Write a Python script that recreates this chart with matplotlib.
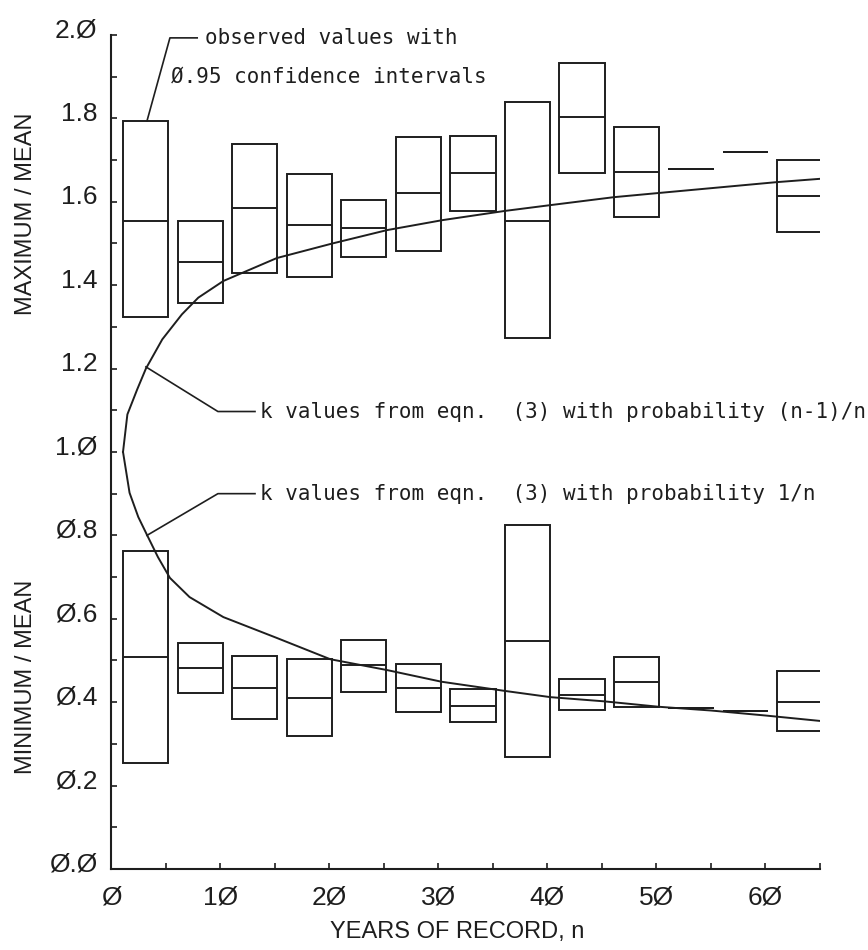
import numpy as np
import matplotlib
matplotlib.use("Agg")
from matplotlib import pyplot as plt
from matplotlib.patches import Rectangle
from matplotlib.transforms import ScaledTranslation

#################################################################################################################################

# Data

# first year of each group of record lengths
bin_start = [1, 6, 11, 16, 21, 26, 31, 36, 41, 46, 51, 56, 61]

# maximum / mean : upper limit, observed, lower limit
max_hi = [1.794, 1.554, 1.739, 1.667, 1.604, 1.756, 1.758, 1.839, 1.933, 1.780, 1.679, 1.719, 1.700]
max_obs = [1.554, 1.456, 1.585, 1.544, 1.537, 1.621, 1.669, 1.554, 1.803, 1.672, 1.679, 1.719, 1.614]
max_lo = [1.324, 1.357, 1.429, 1.420, 1.468, 1.482, 1.578, 1.273, 1.669, 1.564, 1.679, 1.719, 1.528]

# minimum / mean : upper limit, observed, lower limit
min_hi = [0.763, 0.542, 0.511, 0.504, 0.549, 0.492, 0.432, 0.825, 0.455, 0.508, 0.386, 0.380, 0.475]
min_obs = [0.509, 0.482, 0.434, 0.410, 0.489, 0.434, 0.391, 0.547, 0.418, 0.449, 0.386, 0.380, 0.400]
min_lo = [0.254, 0.422, 0.360, 0.319, 0.425, 0.377, 0.352, 0.268, 0.381, 0.389, 0.386, 0.380, 0.330]

# k values, eqn. (3)
n_upper = [1.1, 1.5, 2.4, 3.2, 4.7, 6.5, 8.0, 10.3, 15.2, 20.3, 25.3, 30.4, 36.1, 40.3, 46.1, 50.2, 61.0, 65.0]
k_upper = [1.0, 1.09, 1.15, 1.20, 1.27, 1.33, 1.37, 1.41, 1.465, 1.50, 1.532, 1.556, 1.578, 1.592, 1.611, 1.621, 1.647, 1.655]

n_lower = [1.1, 1.7, 2.5, 3.3, 4.3, 5.4, 7.2, 10.3, 15.2, 20.1, 25.3, 30.3, 36.1, 40.3, 45.2, 50.2, 55.0, 60.0, 65.0]
k_lower = [1.0, 0.902, 0.844, 0.801, 0.748, 0.698, 0.652, 0.604, 0.554, 0.503, 0.477, 0.449, 0.427, 0.412, 0.402, 0.389, 0.380, 0.368, 0.355]

x_ticks = [0, 10, 20, 30, 40, 50, 60]
x_labels = ['Ø', '1Ø', '2Ø', '3Ø', '4Ø', '5Ø', '6Ø']
y_ticks = [0.0, 0.2, 0.4, 0.6, 0.8, 1.0, 1.2, 1.4, 1.6, 1.8, 2.0]
y_labels = ['Ø.Ø', 'Ø.2', 'Ø.4', 'Ø.6', 'Ø.8', '1.Ø', '1.2', '1.4', '1.6', '1.8', '2.Ø']

#################################################################################################################################

# Styles

ink = '#1e1e1e'
lw = 1.4
plot_font = ['Liberation Sans', 'DejaVu Sans']
note_font = ['DejaVu Sans Mono']

fig = plt.figure(figsize=(8.68, 9.5), dpi=100)
ax = fig.add_axes([0.1279, 0.0853, 0.8168, 0.8779])

# Boxes: 0.95 confidence intervals with observed value
def draw_boxes(hi, obs, lo):
    for s, h, m, l in zip(bin_start, hi, obs, lo):
        x0 = s + 0.1
        x1 = s + 4.25
        ax.add_patch(Rectangle((x0, l), x1 - x0, h - l, fill=False, edgecolor=ink, lw=lw))
        ax.hlines(m, x0, x1, colors=ink, lw=lw)

draw_boxes(max_hi, max_obs, max_lo)
draw_boxes(min_hi, min_obs, min_lo)

# k curves
ax.plot(n_upper, k_upper, color=ink, lw=lw)
ax.plot(n_lower, k_lower, color=ink, lw=lw)

#################################################################################################################################

# Notes with leader lines

ax.plot([3.3, 5.4, 7.9], [1.794, 1.993, 1.993], color=ink, lw=1.2, clip_on=False)
ax.text(8.6, 1.993, 'observed values with', fontsize=15, family=note_font, color=ink, va='center', ha='left')
ax.text(5.5, 1.90, 'Ø.95 confidence intervals', fontsize=15, family=note_font, color=ink, va='center', ha='left')

ax.plot([3.2, 9.8, 13.2], [1.204, 1.097, 1.097], color=ink, lw=1.2)
ax.text(13.7, 1.097, 'k values from eqn.  (3) with probability (n-1)/n', fontsize=15,
        family=note_font, color=ink, va='center', ha='left', clip_on=False)

ax.plot([3.3, 9.8, 13.2], [0.80, 0.90, 0.90], color=ink, lw=1.2)
ax.text(13.7, 0.90, 'k values from eqn.  (3) with probability 1/n', fontsize=15,
        family=note_font, color=ink, va='center', ha='left', clip_on=False)

#################################################################################################################################

# Axes

ax.set_xlim(0, 65)
ax.set_ylim(0, 2.0)
for side in ['top', 'right']:
    ax.spines[side].set_visible(False)
for side in ['left', 'bottom']:
    ax.spines[side].set_color(ink)
    ax.spines[side].set_linewidth(1.5)

ax.set_xticks(x_ticks)
ax.set_xticklabels(x_labels, family=plot_font, fontsize=19, color=ink)
ax.set_xticks(np.arange(0, 66, 5), minor=True)
ax.set_yticks(y_ticks)
ax.set_yticklabels(y_labels, family=plot_font, fontsize=19, color=ink)
ax.set_yticks(np.arange(0, 2.01, 0.1), minor=True)
ax.tick_params(axis='both', which='both', direction='in', length=4, width=1.2, color=ink)
ax.tick_params(axis='x', which='major', pad=12)
ax.tick_params(axis='y', which='major', pad=10)

# y labels sit a little above their ticks in the original
for lab in ax.get_yticklabels():
    lab.set_transform(lab.get_transform() + ScaledTranslation(0, 5 / 72, fig.dpi_scale_trans))

fig.text(0.527, 0.019, 'YEARS OF RECORD, n', family=plot_font, fontsize=17, color=ink, ha='center', va='center')
fig.text(0.030, 0.775, 'MAXIMUM / MEAN', family=plot_font, fontsize=17, color=ink, ha='center', va='center', rotation=90)
fig.text(0.030, 0.288, 'MINIMUM / MEAN', family=plot_font, fontsize=17, color=ink, ha='center', va='center', rotation=90)

fig.savefig('out.png', dpi=100, facecolor='white')
